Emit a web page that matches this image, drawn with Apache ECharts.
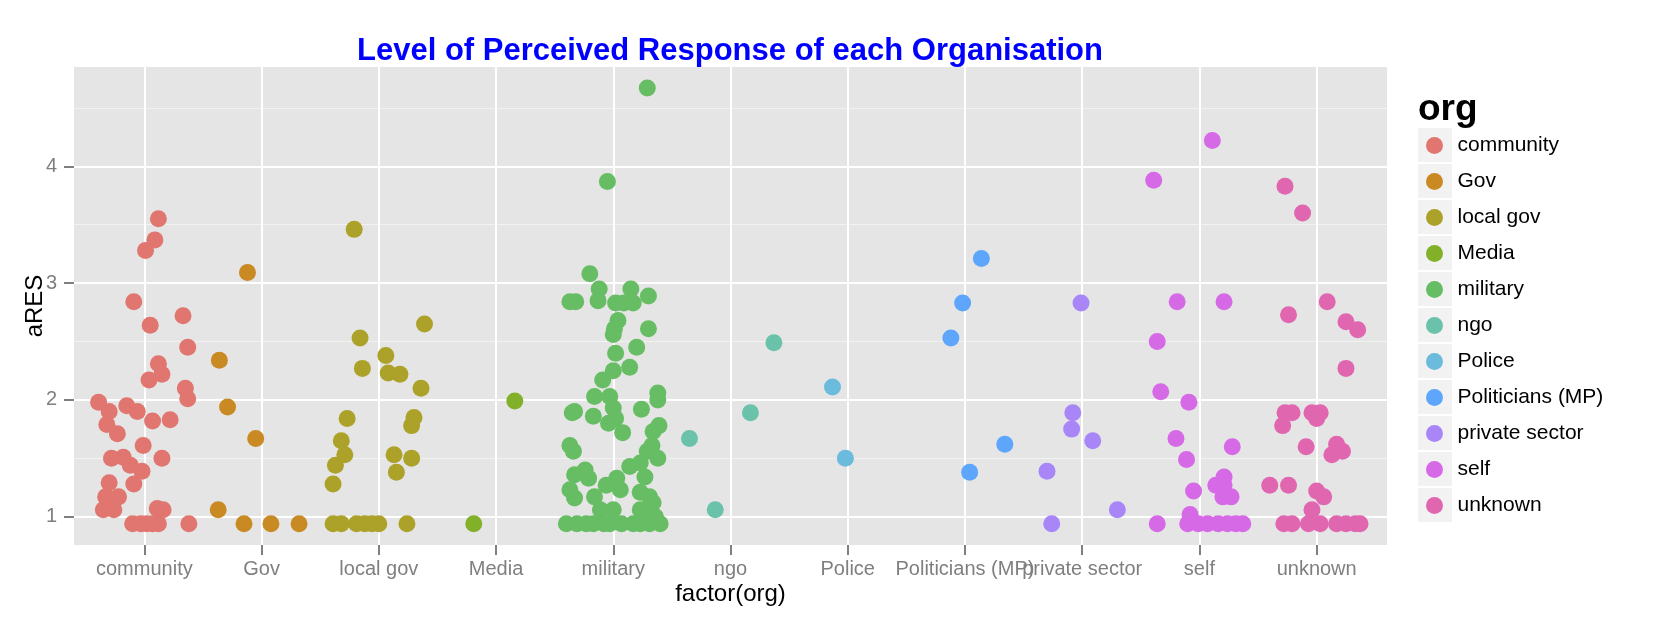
<!DOCTYPE html>
<html>
<head>
<meta charset="utf-8">
<script src="https://cdn.jsdelivr.net/npm/echarts@6/dist/echarts.min.js"></script>
<style>
html,body{margin:0;padding:0;background:#fff;}
#chart{width:1662px;height:622px;}
</style>
</head>
<body>
<div id="chart"></div>
<script>
const categories = ['community','Gov','local gov','Media','military','ngo','Police','Politicians (MP)','private sector','self','unknown'];
const colors = ['#E0766F','#C98A23','#ACA229','#82B129','#67BD63','#6BC2AA','#6BBBDD','#5DA6FB','#A886F7','#D66AE6','#E066B0'];
const yTicks = [1,2,3,4];
const yMinor = [1.5,2.5,3.5,4.5];

// [jittered category position, aRES]
const community = [[1.12,3.55],[1.09,3.37],[1.01,3.28],[0.91,2.84],[1.05,2.64],[1.33,2.72],[1.37,2.45],[1.12,2.31],[1.15,2.22],[1.04,2.17],[1.35,2.10],[1.37,2.01],[0.61,1.98],[0.70,1.90],[0.85,1.95],[0.94,1.90],[1.07,1.82],[1.22,1.83],[0.68,1.79],[0.77,1.71],[0.99,1.61],[0.72,1.50],[0.82,1.51],[0.88,1.44],[0.98,1.39],[1.15,1.50],[0.70,1.29],[0.91,1.28],[0.67,1.17],[0.78,1.17],[0.65,1.06],[0.74,1.06],[1.11,1.07],[1.16,1.06],[0.90,0.94],[0.97,0.94],[1.02,0.94],[1.07,0.94],[1.12,0.94],[1.38,0.94]];
const gov = [[1.88,3.09],[1.64,2.34],[1.71,1.94],[1.95,1.67],[1.63,1.06],[1.85,0.94],[2.08,0.94],[2.32,0.94]];
const localGov = [[2.79,3.46],[3.39,2.65],[2.84,2.53],[3.06,2.38],[2.86,2.27],[3.08,2.23],[3.18,2.22],[3.36,2.10],[2.73,1.84],[3.30,1.85],[3.28,1.78],[2.68,1.65],[2.71,1.53],[2.63,1.44],[2.61,1.28],[3.13,1.53],[3.28,1.50],[3.15,1.38],[2.61,0.94],[2.68,0.94],[2.81,0.94],[2.88,0.94],[2.94,0.94],[3.00,0.94],[3.24,0.94]];
const media = [[4.16,1.99],[3.81,0.94]];
const military = [[5.29,4.67],[4.95,3.87],[4.80,3.08],[4.88,2.95],[5.15,2.95],[5.30,2.89],[4.63,2.84],[4.68,2.84],[4.87,2.85],[5.02,2.83],[5.09,2.83],[5.17,2.83],[5.04,2.68],[5.01,2.61],[5.00,2.56],[5.30,2.61],[5.20,2.45],[5.02,2.40],[5.14,2.28],[5.00,2.25],[4.91,2.17],[4.84,2.03],[4.97,2.03],[5.38,2.06],[5.38,2.00],[5.00,1.93],[4.67,1.90],[4.65,1.89],[5.24,1.92],[4.83,1.86],[5.02,1.84],[4.96,1.80],[5.08,1.72],[5.39,1.78],[5.34,1.73],[4.63,1.61],[4.66,1.56],[5.33,1.61],[5.29,1.56],[5.38,1.50],[5.14,1.43],[5.23,1.46],[4.67,1.36],[4.76,1.40],[4.79,1.33],[5.27,1.34],[5.03,1.33],[4.94,1.27],[5.06,1.23],[4.63,1.23],[4.67,1.16],[4.84,1.17],[5.23,1.21],[5.31,1.17],[5.34,1.12],[4.89,1.06],[5.00,1.06],[5.23,1.06],[5.30,1.04],[5.36,1.00],[4.60,0.94],[4.69,0.94],[4.77,0.94],[4.83,0.94],[4.92,0.94],[4.97,0.94],[5.07,0.94],[5.17,0.94],[5.23,0.94],[5.31,0.94],[5.40,0.94]];
const ngo = [[6.37,2.49],[6.17,1.89],[5.65,1.67],[5.87,1.06]];
const police = [[6.87,2.11],[6.98,1.50]];
const politicians = [[8.14,3.21],[7.98,2.83],[7.88,2.53],[8.34,1.62],[8.04,1.38]];
const privateSector = [[8.99,2.83],[8.92,1.89],[8.91,1.75],[9.09,1.65],[8.70,1.39],[9.30,1.06],[8.74,0.94]];
const self = [[10.11,4.22],[9.61,3.88],[9.81,2.84],[10.21,2.84],[9.64,2.50],[9.67,2.07],[9.91,1.98],[9.80,1.67],[10.28,1.60],[9.89,1.49],[10.21,1.34],[10.14,1.27],[10.21,1.27],[10.20,1.17],[10.27,1.17],[9.95,1.22],[9.92,1.02],[9.64,0.94],[9.90,0.94],[9.99,0.94],[10.07,0.94],[10.16,0.94],[10.24,0.94],[10.31,0.94],[10.37,0.94]];
const unknown = [[10.73,3.83],[10.88,3.60],[10.76,2.73],[11.09,2.84],[11.25,2.67],[11.35,2.60],[11.25,2.27],[10.73,1.89],[10.79,1.89],[10.71,1.78],[10.96,1.89],[11.03,1.89],[11.00,1.84],[10.91,1.60],[11.17,1.62],[11.22,1.56],[11.13,1.53],[10.60,1.27],[10.76,1.27],[11.00,1.22],[11.06,1.17],[10.96,1.06],[10.72,0.94],[10.79,0.94],[10.93,0.94],[11.03,0.94],[11.17,0.94],[11.25,0.94],[11.33,0.94],[11.37,0.94]];

const seriesData = [community, gov, localGov, media, military, ngo, police, politicians, privateSector, self, unknown];
const xTicks = categories.map((c, i) => i + 1);

const FONT = '"Liberation Sans", Arial, Helvetica, sans-serif';
const chart = echarts.init(document.getElementById('chart'), null, {renderer: 'canvas'});

const keyBoxes = categories.map((c, i) => ({
  type: 'rect', shape: {x: 1418, y: 128 + 36 * i, width: 34, height: 34},
  style: {fill: '#F2F2F2'}, z: 0, silent: true
}));

chart.setOption({
  animation: false,
  backgroundColor: '#fff',
  title: {
    text: 'Level of Perceived Response of each Organisation',
    left: 352, top: 31,
    textStyle: {color: '#0000FF', fontSize: 31, fontWeight: 'bold', fontFamily: FONT}
  },
  grid: {left: 74, top: 67, width: 1313, height: 478, show: true, backgroundColor: '#E5E5E5', borderWidth: 0, containLabel: false},
  xAxis: {
    type: 'value', min: 0.4, max: 11.6,
    name: 'factor(org)', nameLocation: 'middle', nameGap: 37, nameMoveOverlap: false,
    nameTextStyle: {color: '#000', fontSize: 24, fontFamily: FONT},
    axisLine: {show: false},
    axisTick: {show: true, customValues: xTicks, length: 10, lineStyle: {color: '#7F7F7F', width: 2}},
    axisLabel: {customValues: xTicks, formatter: v => categories[Math.round(v) - 1], color: '#7F7F7F', fontSize: 20, fontFamily: FONT, margin: 14},
    splitLine: {show: true, lineStyle: {color: '#FFFFFF', width: 2}}
  },
  yAxis: [{
    type: 'value', min: 0.758, max: 4.85,
    name: 'aRES', nameLocation: 'middle', nameGap: 27, nameRotate: 90, nameMoveOverlap: false,
    nameTextStyle: {color: '#000', fontSize: 24, fontFamily: FONT},
    axisLine: {show: false},
    axisTick: {show: true, customValues: yTicks, length: 10, lineStyle: {color: '#7F7F7F', width: 2}},
    axisLabel: {customValues: yTicks, color: '#7F7F7F', fontSize: 20, fontFamily: FONT, margin: 17},
    splitLine: {show: true, lineStyle: {color: '#FFFFFF', width: 2}}
  }, {
    type: 'value', min: 0.758, max: 4.85, position: 'left',
    axisLine: {show: false},
    axisTick: {show: false, customValues: yMinor},
    axisLabel: {show: false, customValues: yMinor},
    splitLine: {show: true, lineStyle: {color: '#F2F2F2', width: 1}}
  }],
  legend: {
    orient: 'vertical', left: 1421, top: 130,
    itemWidth: 36, itemHeight: 17, itemGap: 15, icon: 'circle', symbolKeepAspect: true,
    textStyle: {color: '#000', fontSize: 21, fontFamily: FONT, lineHeight: 17},
    data: categories
  },
  graphic: [
    ...keyBoxes,
    {type: 'text', x: 1418, y: 91, style: {text: 'org', fill: '#000', font: 'bold 37px ' + FONT}, z: 1}
  ],
  series: categories.map((c, i) => ({
    name: c, type: 'scatter', data: seriesData[i], symbol: 'circle', symbolSize: 17,
    itemStyle: {color: colors[i], opacity: 1}, xAxisIndex: 0, yAxisIndex: 0
  }))
});
</script>
</body>
</html>
